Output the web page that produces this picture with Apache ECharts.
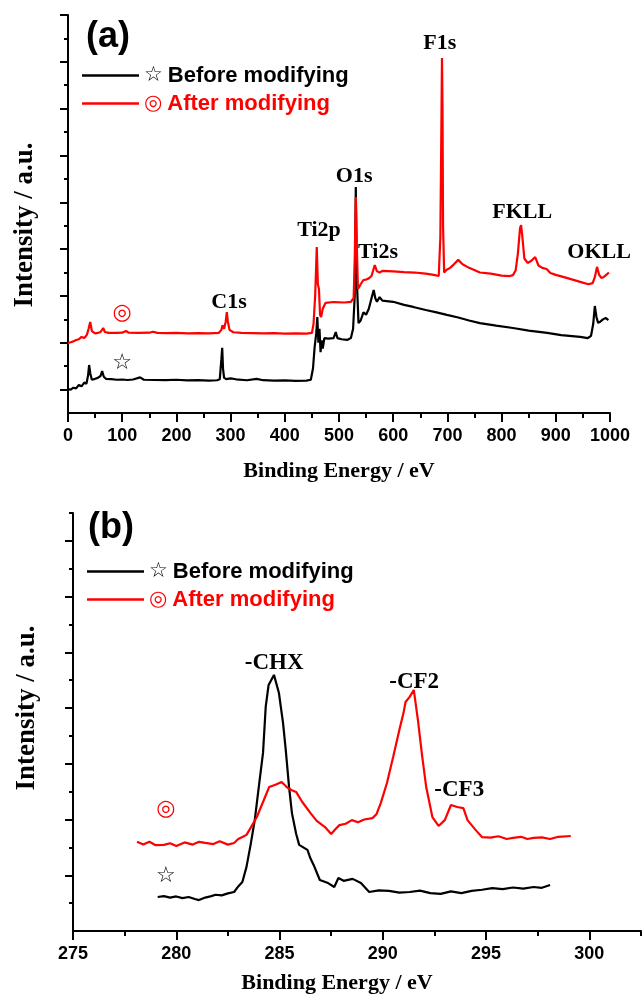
<!DOCTYPE html>
<html><head><meta charset="utf-8">
<script src="https://cdn.jsdelivr.net/npm/echarts@6/dist/echarts.min.js"></script>
<style>html,body{margin:0;padding:0;background:#fff}#c{width:642px;height:996px}</style>
</head><body><div id="c"></div>
<script>
// ---- Panel (a): XPS survey spectra [binding energy eV, intensity a.u.] ----
const surveyBefore = [
[0,1.02],[5,1.0],[10,1.08],[15,1.05],[20,1.2],[25,1.14],[30,1.3],[34,1.25],[37,1.6],[39,2.05],[41,1.7],[44,1.42],[50,1.46],[55,1.5],[60,1.58],[63,1.79],[66,1.55],[70,1.46],[80,1.45],[90,1.42],[100,1.43],[110,1.41],[120,1.43],[133,1.52],[140,1.42],[160,1.41],[180,1.4],[200,1.42],[220,1.39],[240,1.4],[260,1.38],[275,1.4],[280,1.44],[283,2.3],[284.5,2.78],[286,1.9],[288,1.5],[292,1.45],[300,1.48],[310,1.44],[330,1.4],[348,1.46],[360,1.4],[380,1.38],[400,1.39],[420,1.37],[440,1.38],[448,1.42],[452,1.9],[455,2.8],[458,3.4],[460,4.1],[462,3.0],[464,3.6],[466,2.6],[468,3.1],[470,2.75],[473,3.2],[480,3.18],[490,3.2],[494,3.46],[497,3.2],[505,3.15],[515,3.12],[522,3.2],[526,3.6],[529,5.0],[531,9.65],[533,5.6],[536,3.84],[540,3.95],[545,4.3],[550,4.2],[555,4.45],[560,4.9],[564,5.25],[567,4.9],[570,4.75],[575,4.95],[580,4.8],[600,4.75],[620,4.62],[637,4.53],[660,4.4],[680,4.3],[699,4.19],[720,4.08],[740,3.95],[760,3.84],[790,3.73],[821,3.63],[850,3.52],[884,3.42],[910,3.33],[945,3.25],[959,3.2],[965,3.3],[969,3.8],[972,4.57],[975,4.1],[978,3.85],[982,3.9],[987,4.0],[992,4.06],[997,3.97]
];
const surveyAfter = [
[0,2.99],[5,3.02],[10,3.06],[15,3.12],[20,3.15],[25,3.25],[30,3.2],[35,3.35],[38,3.6],[41,3.89],[44,3.5],[50,3.4],[55,3.42],[60,3.46],[65,3.63],[68,3.46],[75,3.42],[90,3.42],[100,3.43],[107,3.5],[112,3.43],[130,3.42],[150,3.43],[157,3.47],[165,3.42],[180,3.41],[200,3.42],[220,3.4],[240,3.41],[260,3.4],[278,3.42],[283,3.55],[285,3.75],[288,3.6],[291,3.9],[293,4.31],[295,3.9],[298,3.55],[305,3.45],[320,3.42],[340,3.41],[360,3.4],[380,3.41],[400,3.39],[420,3.4],[440,3.39],[450,3.42],[453,3.8],[456,5.0],[459,7.09],[461,5.5],[463,5.3],[465,4.2],[467,4.1],[470,4.45],[475,4.7],[490,4.74],[510,4.72],[522,4.75],[527,4.9],[529,6.5],[531,9.23],[533,7.0],[535,5.3],[537,5.25],[540,5.5],[545,5.68],[550,5.7],[555,5.75],[560,5.85],[566,6.32],[570,6.05],[575,6.0],[580,6.07],[600,6.05],[620,6.02],[640,6.0],[660,5.95],[675,5.9],[684,5.85],[687,7.5],[689,12.5],[690,15.16],[691,13.0],[692,8.0],[694,6.0],[698,6.11],[705,6.2],[712,6.35],[720,6.54],[728,6.35],[740,6.2],[760,6.0],[780,5.95],[800,5.87],[815,5.85],[821,5.89],[826,6.1],[830,6.8],[834,7.9],[836,8.03],[838,7.6],[842,6.6],[848,6.41],[855,6.5],[862,6.66],[868,6.3],[875,6.2],[883,6.15],[890,5.98],[900,5.9],[920,5.77],[945,5.6],[960,5.5],[968,5.55],[972,5.8],[976,6.24],[980,5.9],[984,5.77],[988,5.8],[993,5.9],[998,6.0]
];
// peak labels (a): [text, energy, intensity]
const surveyPeaks = [["F1s",686,15.8],["O1s",528,10.12],["Ti2p",463,7.82],["Ti2s",572,6.88],["C1s",297,4.74],["FKLL",838,8.59],["OKLL",980,6.88]];
const surveyMarks = [["◎",100,4.27,"#ff0000"],["☆",100,2.14,"#000000"]];

// ---- Panel (b): C1s high resolution ----
const c1sBefore = [
[279.1,1.22],[279.4,1.25],[279.7,1.2],[280.0,1.24],[280.3,1.18],[280.6,1.22],[280.9,1.15],[281.1,1.11],[281.4,1.2],[281.7,1.25],[281.9,1.3],[282.2,1.28],[282.5,1.35],[282.8,1.4],[283.0,1.6],[283.2,1.76],[283.4,2.3],[283.6,3.1],[283.8,3.98],[284.0,5.2],[284.2,6.39],[284.33,8.04],[284.47,8.83],[284.73,9.19],[284.97,8.54],[285.17,7.46],[285.3,6.5],[285.46,5.17],[285.6,4.23],[285.8,3.5],[285.95,3.09],[286.35,2.91],[286.5,2.6],[286.65,2.37],[286.95,1.83],[287.35,1.72],[287.65,1.58],[287.85,1.9],[288.1,1.8],[288.54,1.87],[288.94,1.72],[289.34,1.4],[289.8,1.46],[290.3,1.44],[290.8,1.38],[291.3,1.4],[291.8,1.45],[292.3,1.36],[292.8,1.33],[293.3,1.42],[293.8,1.36],[294.3,1.44],[294.8,1.48],[295.3,1.54],[295.8,1.5],[296.3,1.56],[296.8,1.52],[297.3,1.58],[297.7,1.55],[298.1,1.65]
];
const c1sAfter = [
[278.1,3.2],[278.4,3.1],[278.7,3.2],[279.0,3.08],[279.4,3.09],[279.7,3.15],[280.0,3.05],[280.4,3.18],[280.8,3.1],[281.1,3.2],[281.4,3.16],[281.8,3.12],[282.1,3.22],[282.5,3.1],[282.8,3.16],[283.0,3.3],[283.2,3.37],[283.4,3.45],[283.6,3.7],[283.9,4.09],[284.2,4.63],[284.5,5.17],[284.8,5.25],[285.1,5.35],[285.3,5.2],[285.4,5.13],[285.6,5.05],[285.8,4.99],[286.1,4.63],[286.5,4.23],[286.8,3.95],[287.2,3.73],[287.5,3.48],[287.7,3.65],[287.9,3.8],[288.2,3.85],[288.5,3.98],[288.8,3.9],[289.1,4.0],[289.5,4.05],[289.7,4.2],[289.9,4.59],[290.2,5.31],[290.5,6.24],[290.8,7.21],[291.0,7.82],[291.1,8.22],[291.3,8.4],[291.5,8.65],[291.7,7.57],[291.9,6.3],[292.1,5.17],[292.4,4.09],[292.7,3.77],[293.0,3.98],[293.3,4.52],[293.6,4.45],[293.9,4.41],[294.1,3.98],[294.5,3.62],[294.8,3.37],[295.2,3.35],[295.6,3.4],[296.0,3.3],[296.3,3.34],[296.7,3.38],[297.0,3.3],[297.3,3.34],[297.7,3.36],[298.1,3.3],[298.5,3.38],[299.1,3.41]
];
const c1sPeaks = [["-CHX",284.74,9.62],["-CF2",291.52,8.93],["-CF3",293.7,5.06]];
const c1sMarks = [["◎",279.5,4.38,"#ff0000"],["☆",279.5,1.97,"#000000"]];

// ticks
const surveyXTicks = [0,100,200,300,400,500,600,700,800,900,1000];
const surveyXMinor = [50,150,250,350,450,550,650,750,850,950];
const surveyYMajor = [1,3,5,7,9,11,13,15,17];
const surveyYMinor = [2,4,6,8,10,12,14,16];
const c1sXTicks = [275,280,285,290,295,300];
const c1sXMinor = [277.5,282.5,287.5,292.5,297.5,302.5];
const c1sYMajor = [2,4,6,8,10,12,14];
const c1sYMinor = [1,3,5,7,9,11,13,15];

const NAME_B = 'Before modifying', NAME_A = 'After modifying';
const RED = '#ff0000', BLACK = '#000000';
const SERIF = '"Liberation Serif","Times New Roman",serif';
const SANS = '"Liberation Sans",Arial,sans-serif';
const SYM = '"DejaVu Sans",sans-serif';

function peakMP(peaks, marks, size) {
  const d = peaks.map(p => ({name: p[0], coord: [p[1], p[2]],
    label: {fontSize: size, fontFamily: SERIF, fontWeight: 'bold', color: '#000'}}));
  marks.forEach(m => d.push({name: m[0], coord: [m[1], m[2]],
    label: {fontSize: 22, fontFamily: SYM, fontWeight: 'normal', color: m[3]}}));
  return {symbol: 'circle', symbolSize: 0, silent: true, animation: false,
    itemStyle: {color: 'rgba(0,0,0,0)'},
    label: {show: true, position: 'inside', formatter: '{b}'}, data: d};
}

const axLine = {show: true, onZero: false, lineStyle: {color: '#000', width: 2}};
function xMain(grid, min, max, ticks, nameGap, namePad) {
  return {type: 'value', gridIndex: grid, min: min, max: max, position: 'bottom',
    axisLine: axLine, splitLine: {show: false},
    axisTick: {show: true, customValues: ticks, length: 9, lineStyle: {width: 2, color: '#000'}},
    axisLabel: {show: true, customValues: ticks, margin: 14, fontSize: 18, fontWeight: 'bold', fontFamily: SANS, color: '#000',
      formatter: v => String(v)},
    name: 'Binding Energy / eV', nameLocation: 'middle', nameGap: nameGap,
    nameTextStyle: {fontSize: 22, fontWeight: 'bold', fontFamily: SERIF, color: '#000', padding: namePad}};
}
function xMinor(grid, min, max, ticks) {
  return {type: 'value', gridIndex: grid, min: min, max: max, position: 'bottom',
    axisLine: {show: false}, splitLine: {show: false}, axisLabel: {show: false},
    axisTick: {show: true, customValues: ticks, length: 5, lineStyle: {width: 2, color: '#000'}}};
}
function yMain(grid, max, ticks, nameGap, namePad) {
  return {type: 'value', gridIndex: grid, min: 0, max: max, position: 'left',
    axisLine: axLine, splitLine: {show: false}, axisLabel: {show: false},
    axisTick: {show: true, customValues: ticks, length: 8, lineStyle: {width: 2, color: '#000'}},
    name: 'Intensity / a.u.', nameLocation: 'middle', nameGap: nameGap,
    nameTextStyle: {fontSize: 27, fontWeight: 'bold', fontFamily: SERIF, color: '#000', padding: namePad}};
}
function yMinor(grid, max, ticks) {
  return {type: 'value', gridIndex: grid, min: 0, max: max, position: 'left',
    axisLine: {show: false}, splitLine: {show: false}, axisLabel: {show: false},
    axisTick: {show: true, customValues: ticks, length: 4, lineStyle: {width: 2, color: '#000'}}};
}
function legendItems() {
  return [
    {name: NAME_B, textStyle: {color: BLACK, fontSize: 22, fontWeight: 'bold', fontFamily: SANS,
      rich: {s: {color: BLACK, fontSize: 21, fontFamily: SYM, fontWeight: 'normal', padding: [0, 5, 0, 0]}}}},
    {name: NAME_A, textStyle: {color: RED, fontSize: 22, fontWeight: 'bold', fontFamily: SANS,
      rich: {s: {color: RED, fontSize: 21, fontFamily: SYM, fontWeight: 'normal', padding: [0, 5, 0, 0]}}}}
  ];
}
function legend(left, top) {
  return {show: true, orient: 'vertical', left: left, top: top, icon: 'rect',
    itemWidth: 57, itemHeight: 2.5, itemGap: 3, selectedMode: false,
    formatter: n => '{s|' + (n === NAME_B ? '☆' : '◎') + '}' + n,
    textStyle: {fontSize: 22, fontWeight: 'bold', fontFamily: SANS, lineHeight: 25},
    data: legendItems()};
}
function line(name, data, color, xi, yi, mp) {
  const s = {type: 'line', name: name, data: data, xAxisIndex: xi, yAxisIndex: yi,
    showSymbol: false, symbol: 'none', color: color, animation: false,
    lineStyle: {color: color, width: 2.2}};
  if (mp) s.markPoint = mp;
  return s;
}

const chart = echarts.init(document.getElementById('c'), null, {renderer: 'canvas'});
chart.setOption({
  backgroundColor: '#fff',
  animation: false,
  title: [
    {text: '(a)', left: 81, top: 14, textStyle: {fontSize: 36, fontWeight: 'bold', fontFamily: SANS, color: '#000'}},
    {text: '(b)', left: 83, top: 505, textStyle: {fontSize: 36, fontWeight: 'bold', fontFamily: SANS, color: '#000'}}
  ],
  legend: [legend(77, 58), legend(82, 554)],
  grid: [
    {left: 68, top: 15, width: 542, height: 398},
    {left: 73, top: 513, width: 568, height: 418}
  ],
  xAxis: [
    xMain(0, 0, 1000, surveyXTicks, 47, [0, 0, 0, 0]),
    xMinor(0, 0, 1000, surveyXMinor),
    xMain(1, 275, 302.5, c1sXTicks, 41, [0, 40, 0, 0]),
    xMinor(1, 275, 302.5, c1sXMinor)
  ],
  yAxis: [
    yMain(0, 17, surveyYMajor, 29, [0, 22, 0, 0]),
    yMinor(0, 17, surveyYMinor),
    yMain(1, 15, c1sYMajor, 32, [0, 0, 0, 28]),
    yMinor(1, 15, c1sYMinor)
  ],
  series: [
    line(NAME_B, surveyBefore, BLACK, 0, 0, null),
    line(NAME_A, surveyAfter, RED, 0, 0, peakMP(surveyPeaks, surveyMarks, 22)),
    line(NAME_B, c1sBefore, BLACK, 2, 2, null),
    line(NAME_A, c1sAfter, RED, 2, 2, peakMP(c1sPeaks, c1sMarks, 23))
  ]
});
</script>
</body></html>
